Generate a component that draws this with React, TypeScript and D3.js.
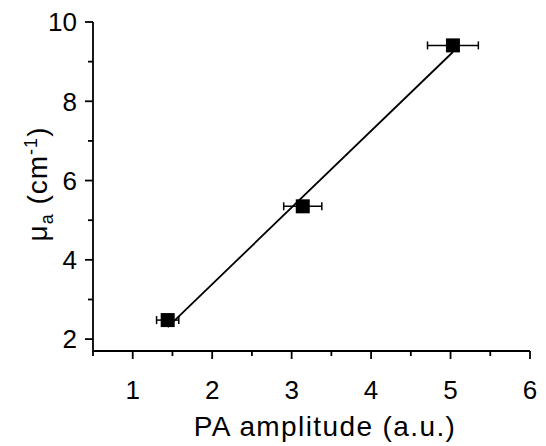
import React from "react";
import * as d3 from "d3";

const xValues = [1.44, 3.14, 5.03];
const yValues = [2.48, 5.35, 9.41];
const xErrors = [0.14, 0.24, 0.32];
const fitSlope = 1.933;
const fitIntercept = -0.48;
const xTicks = [1, 2, 3, 4, 5, 6];
const yTicks = [2, 4, 6, 8, 10];
const xMinor = [0.5, 1.5, 2.5, 3.5, 4.5, 5.5];
const yMinor = [3, 5, 7, 9];

export default function App() {
  const W = 546, H = 446;
  const left = 93, right = 530, top = 22, bottom = 351;
  const x = d3.scaleLinear().domain([0.5, 6]).range([left, right]);
  const y = d3.scaleLinear().domain([1.7, 10]).range([bottom, top]);
  const font = "Liberation Sans, Arial, sans-serif";
  const fitLine = d3.line<number>().x((d) => x(d)).y((d) => y(fitSlope * d + fitIntercept));
  const fitX = [xValues[0], xValues[xValues.length - 1]];
  const ms = 14;
  const cap = 4;
  return (
    <svg width={W} height={H} style={{ position: "absolute", left: 0, top: 0 }} fontFamily={font}>
      <rect width={W} height={H} fill="white" />
      <path d={`M${left},${top}V${bottom}H${right}`} fill="none" stroke="black" strokeWidth={1.8} />
      {yTicks.map((t) => (
        <g key={"y" + t}>
          <line x1={left - 8} x2={left} y1={y(t)} y2={y(t)} stroke="black" strokeWidth={1.8} />
          <text x={left - 16} y={y(t)} dy="0.36em" textAnchor="end" fontSize={26}>{t}</text>
        </g>
      ))}
      {yMinor.map((t) => (
        <line key={"ym" + t} x1={left - 5} x2={left} y1={y(t)} y2={y(t)} stroke="black" strokeWidth={1.8} />
      ))}
      {xTicks.map((t) => (
        <g key={"x" + t}>
          <line x1={x(t)} x2={x(t)} y1={bottom} y2={bottom + 8} stroke="black" strokeWidth={1.8} />
          <text x={x(t)} y={399} textAnchor="middle" fontSize={26}>{t}</text>
        </g>
      ))}
      {xMinor.map((t) => (
        <line key={"xm" + t} x1={x(t)} x2={x(t)} y1={bottom} y2={bottom + 5} stroke="black" strokeWidth={1.8} />
      ))}
      <text x={325} y={436} textAnchor="middle" fontSize={28} letterSpacing={1.4}>PA amplitude (a.u.)</text>
      <text transform={`translate(47,184) rotate(-90)`} textAnchor="middle" fontSize={28} letterSpacing={1}>
        <tspan>μ</tspan>
        <tspan fontSize={18} dy={6}>a</tspan>
        <tspan dy={-6}> (cm</tspan>
        <tspan fontSize={18} dy={-10}>-1</tspan>
        <tspan dy={10}>)</tspan>
      </text>
      <path d={fitLine(fitX) || ""} fill="none" stroke="black" strokeWidth={1.8} />
      {xValues.map((v, i) => (
        <g key={"p" + i}>
          <line x1={x(v - xErrors[i])} x2={x(v + xErrors[i])} y1={y(yValues[i])} y2={y(yValues[i])} stroke="black" strokeWidth={1.5} />
          <line x1={x(v - xErrors[i])} x2={x(v - xErrors[i])} y1={y(yValues[i]) - cap} y2={y(yValues[i]) + cap} stroke="black" strokeWidth={1.5} />
          <line x1={x(v + xErrors[i])} x2={x(v + xErrors[i])} y1={y(yValues[i]) - cap} y2={y(yValues[i]) + cap} stroke="black" strokeWidth={1.5} />
          <rect x={x(v) - ms / 2} y={y(yValues[i]) - ms / 2} width={ms} height={ms} fill="black" />
        </g>
      ))}
    </svg>
  );
}
